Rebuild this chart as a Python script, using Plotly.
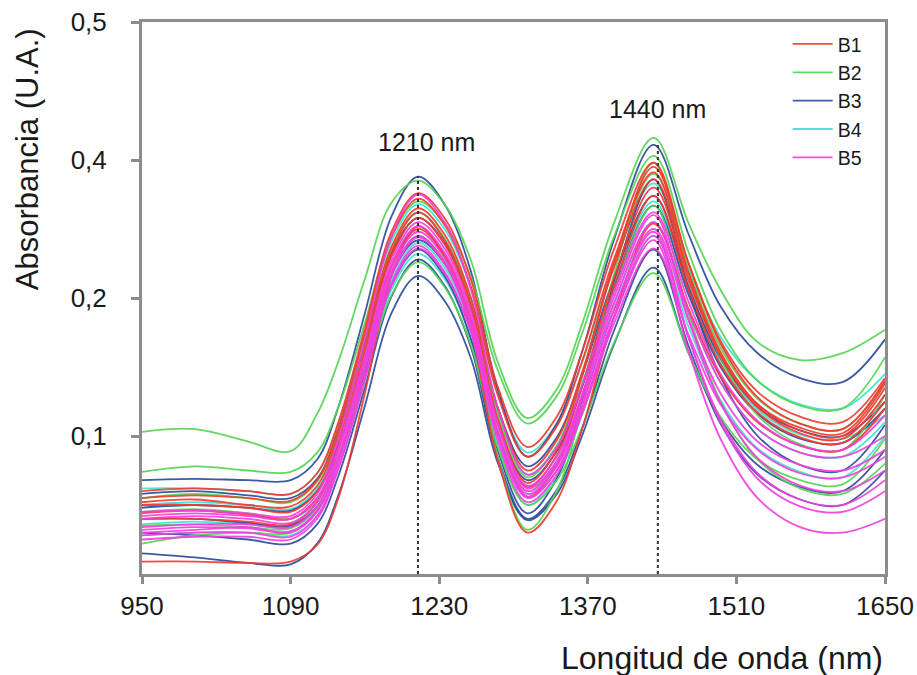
import plotly.graph_objects as go

# Wavelength grid (nm)
wavelength = [950, 1000, 1050, 1090, 1115, 1135, 1160, 1185, 1210, 1235, 1260, 1285,
              1313, 1340, 1365, 1395, 1432, 1465, 1495, 1530, 1570, 1610, 1650]

# Absorbance spectra in the plotted axis units (gridline positions: 0.1 -> "0,1", 0.2 -> "0,2", 0.3 -> "0,4", 0.4 -> "0,5")
b1_spectra = [
    [0.009,0.009,0.008,0.009,0.021,0.055,0.131,0.216,0.252,0.230,0.177,0.083,0.030,0.052,0.106,0.187,0.254,0.192,0.143,0.110,0.093,0.090,0.120],
    [0.060,0.062,0.060,0.058,0.073,0.110,0.178,0.248,0.276,0.258,0.213,0.136,0.092,0.113,0.162,0.236,0.298,0.225,0.167,0.128,0.109,0.105,0.140],
    [0.055,0.057,0.055,0.053,0.068,0.106,0.174,0.244,0.272,0.253,0.208,0.130,0.085,0.106,0.155,0.229,0.291,0.218,0.161,0.123,0.104,0.100,0.135],
    [0.052,0.054,0.050,0.049,0.064,0.101,0.168,0.237,0.265,0.246,0.200,0.121,0.075,0.096,0.147,0.223,0.286,0.215,0.158,0.121,0.102,0.098,0.130],
    [0.050,0.050,0.048,0.045,0.060,0.096,0.162,0.230,0.258,0.239,0.192,0.110,0.063,0.085,0.137,0.215,0.280,0.212,0.159,0.123,0.106,0.102,0.138],
    [0.044,0.046,0.043,0.040,0.055,0.090,0.156,0.223,0.250,0.231,0.184,0.103,0.056,0.078,0.130,0.209,0.274,0.206,0.152,0.117,0.099,0.095,0.125],
    [0.040,0.040,0.038,0.036,0.052,0.090,0.160,0.233,0.262,0.242,0.195,0.113,0.066,0.089,0.144,0.226,0.295,0.225,0.169,0.132,0.114,0.110,0.142],
]
b2_spectra = [
    [0.103,0.105,0.096,0.089,0.116,0.154,0.214,0.269,0.285,0.268,0.227,0.154,0.113,0.133,0.182,0.255,0.316,0.254,0.206,0.168,0.155,0.160,0.177],
    [0.074,0.078,0.075,0.074,0.088,0.121,0.182,0.245,0.270,0.254,0.215,0.148,0.109,0.128,0.175,0.245,0.303,0.233,0.177,0.140,0.122,0.120,0.157],
    [0.022,0.028,0.030,0.030,0.046,0.083,0.152,0.223,0.252,0.230,0.177,0.085,0.032,0.059,0.122,0.218,0.298,0.219,0.157,0.115,0.094,0.090,0.130],
    [0.055,0.058,0.055,0.052,0.067,0.102,0.168,0.235,0.262,0.243,0.197,0.116,0.070,0.092,0.145,0.224,0.290,0.220,0.164,0.127,0.109,0.105,0.140],
    [0.045,0.047,0.044,0.040,0.053,0.085,0.142,0.202,0.226,0.208,0.166,0.092,0.050,0.067,0.107,0.168,0.218,0.160,0.114,0.083,0.068,0.065,0.098],
    [0.035,0.036,0.034,0.033,0.048,0.084,0.150,0.217,0.245,0.227,0.182,0.104,0.060,0.081,0.130,0.205,0.267,0.188,0.125,0.083,0.062,0.058,0.080],
]
b3_spectra = [
    [0.068,0.069,0.068,0.068,0.083,0.121,0.189,0.259,0.288,0.268,0.219,0.134,0.085,0.108,0.162,0.243,0.311,0.246,0.194,0.160,0.142,0.139,0.170],
    [0.015,0.012,0.008,0.007,0.022,0.057,0.122,0.189,0.216,0.198,0.156,0.081,0.039,0.057,0.101,0.167,0.222,0.160,0.112,0.079,0.063,0.060,0.090],
    [0.048,0.050,0.048,0.046,0.060,0.093,0.154,0.217,0.242,0.225,0.183,0.110,0.068,0.088,0.136,0.207,0.267,0.202,0.150,0.116,0.098,0.095,0.120],
    [0.040,0.040,0.037,0.035,0.049,0.083,0.145,0.209,0.235,0.216,0.170,0.090,0.044,0.068,0.126,0.213,0.286,0.206,0.143,0.100,0.079,0.075,0.108],
    [0.058,0.060,0.057,0.055,0.069,0.104,0.167,0.232,0.258,0.240,0.197,0.121,0.078,0.098,0.145,0.215,0.274,0.208,0.156,0.121,0.104,0.100,0.125],
    [0.030,0.028,0.025,0.022,0.036,0.071,0.135,0.201,0.228,0.209,0.164,0.085,0.040,0.060,0.106,0.177,0.235,0.165,0.109,0.072,0.054,0.050,0.075],
]
b4_spectra = [
    [0.050,0.052,0.050,0.047,0.062,0.099,0.165,0.234,0.262,0.243,0.197,0.118,0.072,0.092,0.139,0.211,0.270,0.205,0.153,0.119,0.101,0.098,0.115],
    [0.036,0.038,0.036,0.034,0.048,0.083,0.147,0.213,0.240,0.222,0.178,0.102,0.058,0.078,0.125,0.196,0.255,0.190,0.139,0.105,0.088,0.085,0.110],
    [0.062,0.062,0.060,0.058,0.073,0.108,0.174,0.241,0.268,0.250,0.207,0.131,0.088,0.108,0.154,0.225,0.283,0.221,0.172,0.140,0.123,0.120,0.145],
    [0.028,0.030,0.030,0.028,0.042,0.077,0.140,0.206,0.232,0.214,0.170,0.094,0.050,0.070,0.116,0.187,0.245,0.179,0.126,0.091,0.074,0.070,0.100],
]
b5_spectra = [
    [0.040,0.042,0.040,0.037,0.052,0.089,0.155,0.224,0.252,0.233,0.187,0.108,0.062,0.081,0.128,0.197,0.255,0.190,0.139,0.105,0.088,0.085,0.100],
    [0.034,0.036,0.036,0.034,0.049,0.085,0.150,0.218,0.245,0.226,0.181,0.103,0.058,0.077,0.123,0.192,0.250,0.184,0.131,0.096,0.079,0.075,0.090],
    [0.030,0.032,0.034,0.030,0.045,0.082,0.150,0.220,0.248,0.229,0.182,0.101,0.055,0.074,0.119,0.186,0.242,0.161,0.098,0.055,0.034,0.030,0.040],
    [0.028,0.030,0.030,0.027,0.042,0.078,0.143,0.211,0.238,0.219,0.175,0.097,0.052,0.071,0.118,0.187,0.245,0.171,0.112,0.073,0.054,0.050,0.068],
    [0.042,0.044,0.042,0.040,0.055,0.092,0.158,0.227,0.255,0.236,0.190,0.110,0.064,0.084,0.131,0.201,0.260,0.184,0.124,0.084,0.064,0.060,0.075],
    [0.025,0.027,0.027,0.025,0.040,0.076,0.141,0.209,0.236,0.218,0.176,0.102,0.060,0.079,0.124,0.192,0.248,0.171,0.110,0.069,0.049,0.045,0.060],
    [0.045,0.046,0.044,0.042,0.058,0.098,0.170,0.245,0.275,0.255,0.206,0.121,0.072,0.091,0.137,0.205,0.262,0.197,0.145,0.111,0.093,0.090,0.115],
    [0.032,0.034,0.033,0.031,0.046,0.082,0.148,0.216,0.244,0.225,0.180,0.101,0.056,0.074,0.117,0.182,0.236,0.173,0.123,0.090,0.073,0.070,0.085],
]

groups = ["B1", "B2", "B3", "B4", "B5"]
group_colors = {"B1": "#f23a30", "B2": "#55d455", "B3": "#2d4c9c", "B4": "#3fe3d2", "B5": "#f23fe0"}
group_data = {"B1": b1_spectra, "B2": b2_spectra, "B3": b3_spectra, "B4": b4_spectra, "B5": b5_spectra}
draw_order = ["B4", "B3", "B2", "B1", "B5"]

# Peak markers
peak_nm = [1210, 1436]
peak_top = [0.288, 0.311]
peak_labels = ["1210 nm", "1440 nm"]
peak_label_x = [1218, 1436]
peak_label_y = [0.313, 0.337]

# Axis ticks
x_ticks = [950, 1090, 1230, 1370, 1510, 1650]
y_tickvals = [0.1, 0.2, 0.3, 0.4]
y_ticktext = ["0,1", "0,2", "0,4", "0,5"]

FONT = "Liberation Sans, Arial, Helvetica, sans-serif"
INK = "#1a1a1a"

fig = go.Figure()
for g in draw_order:
    for i, ys in enumerate(group_data[g]):
        fig.add_trace(go.Scatter(
            x=wavelength, y=ys, mode="lines", name=g, legendgroup=g,
            showlegend=(i == 0), legendrank=groups.index(g) + 1,
            line=dict(color=group_colors[g], width=1.8, shape="spline", smoothing=1.0),
            opacity=0.92, hoverinfo="skip",
        ))

for nm, top in zip(peak_nm, peak_top):
    fig.add_trace(go.Scatter(
        x=[nm, nm], y=[0, top], mode="lines", showlegend=False, hoverinfo="skip",
        line=dict(color="#333333", width=2, dash="dot"),
    ))

for lx, lab, ly in zip(peak_label_x, peak_labels, peak_label_y):
    fig.add_annotation(x=lx, y=ly, text=lab, showarrow=False,
                       font=dict(size=25, color=INK, family=FONT),
                       xanchor="center", yanchor="middle")

fig.add_annotation(x=-0.153, y=0.752, xref="paper", yref="paper", text="Absorbancia (U.A.)",
                   textangle=-90, showarrow=False, xanchor="center", yanchor="middle",
                   font=dict(size=31, color=INK, family=FONT))
fig.add_annotation(x=1.0, y=-0.152, xref="paper", yref="paper", text="Longitud de onda (nm)",
                   showarrow=False, xanchor="right", yanchor="middle",
                   font=dict(size=32, color=INK, family=FONT))

axis_common = dict(showgrid=False, zeroline=False, showline=True, mirror=True,
                   linecolor="#8c8c8c", linewidth=3, ticks="outside", tickcolor="#8c8c8c",
                   tickwidth=3, automargin=False, tickfont=dict(size=26, color=INK, family=FONT))

fig.update_xaxes(range=[950, 1650], tickvals=x_ticks, ticklen=7, ticklabelstandoff=0, **axis_common)
fig.update_yaxes(range=[0, 0.4], tickvals=y_tickvals, ticktext=y_ticktext, ticklen=8,
                 ticklabelstandoff=19, **axis_common)

fig.update_layout(
    width=917, height=675, autosize=False,
    margin=dict(l=142, r=32, t=22, b=101, autoexpand=False),
    paper_bgcolor="white", plot_bgcolor="white",
    font=dict(family=FONT, color=INK),
    legend=dict(x=0.869, y=0.995, xanchor="left", yanchor="top",
                font=dict(size=19.5, color=INK, family=FONT),
                bgcolor="rgba(255,255,255,0.9)", tracegroupgap=0, itemwidth=40),
)

fig.write_html(
    "out.html",
    config={"responsive": False, "displayModeBar": False},
    post_script="document.body.style.margin='0';document.body.style.overflow='hidden';",
)
